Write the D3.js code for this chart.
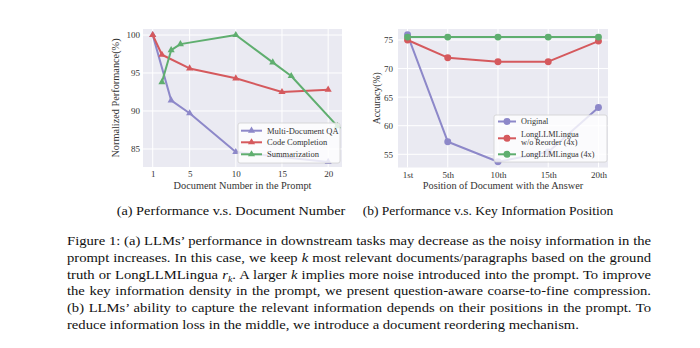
<!DOCTYPE html>
<html><head><meta charset="utf-8">
<script src="https://cdn.jsdelivr.net/npm/d3@7"></script>
<style>
html,body{margin:0;padding:0;background:#fff;}
svg{display:block;}
text{font-family:"Liberation Serif","DejaVu Serif",serif;}
</style></head>
<body>
<svg id="fig" width="700" height="348"></svg>
<script>
// ---------- Data: chart (a) ----------
const qaX = [1, 3, 5, 10, 20];
const qaY = [100, 91.4, 89.7, 84.6, 83.3];
const codeX = [1, 2, 5, 10, 15, 20];
const codeY = [100, 97.4, 95.6, 94.3, 92.5, 92.8];
const sumX = [2, 3, 4, 10, 14, 16, 21];
const sumY = [93.8, 98.0, 98.8, 100, 96.4, 94.6, 88.0];
const aXTicks = [1, 5, 10, 15, 20];
const aYTicks = [85, 90, 95, 100];
const aSeriesNames = ["Multi-Document QA", "Code Completion", "Summarization"];

// ---------- Data: chart (b) ----------
const posX = [1, 5, 10, 15, 20];
const posLabels = ["1st", "5th", "10th", "15th", "20th"];
const originalY = [75.9, 57.2, 53.7, 55.4, 63.2];
const noReorderY = [75.0, 71.9, 71.2, 71.2, 74.8];
const llmlinguaY = [75.5, 75.5, 75.5, 75.5, 75.5];
const bYTicks = [55, 60, 65, 70, 75];
const bSeriesNames = [["Original"], ["LongLLMLingua", "w/o Reorder (4x)"], ["LongLLMLingua (4x)"]];

// ---------- Caption text ----------
const subCaptions = ["(a) Performance v.s. Document Number", "(b) Performance v.s. Key Information Position"];
const captionLines = [
  [["Figure 1: (a) LLMs’ performance in downstream tasks may decrease as the noisy information in the", false]],
  [["prompt increases. In this case, we keep ", false], ["k", true], [" most relevant documents/paragraphs based on the ground", false]],
  [["truth or LongLLMLingua ", false], ["r", true], ["k", "sub"], [". A larger ", false], ["k", true], [" implies more noise introduced into the prompt. To improve", false]],
  [["the key information density in the prompt, we present question-aware coarse-to-fine compression.", false]],
  [["(b) LLMs’ ability to capture the relevant information depends on their positions in the prompt. To", false]],
  [["reduce information loss in the middle, we introduce a document reordering mechanism.", false]]
];

const colors = {purple: "#8d88c9", red: "#d5595d", green: "#5fae6f"};
const svg = d3.select("#fig");

function drawPanel(cfg) {
  const g = svg.append("g");
  const x = d3.scaleLinear().domain(cfg.xDomain).range([cfg.left, cfg.right]);
  const y = d3.scaleLinear().domain(cfg.yDomain).range([cfg.bottom, cfg.top]);
  g.append("rect").attr("x", cfg.left).attr("y", cfg.top)
    .attr("width", cfg.right - cfg.left).attr("height", cfg.bottom - cfg.top).attr("fill", "#eaeaf2");
  g.selectAll(".vg").data(cfg.xTicks).join("line")
    .attr("x1", d => x(d)).attr("x2", d => x(d)).attr("y1", cfg.top).attr("y2", cfg.bottom)
    .attr("stroke", "#fff").attr("stroke-width", 1);
  g.selectAll(".hg").data(cfg.yTicks).join("line")
    .attr("y1", d => y(d)).attr("y2", d => y(d)).attr("x1", cfg.left).attr("x2", cfg.right)
    .attr("stroke", "#fff").attr("stroke-width", 1);
  const xAxis = d3.axisBottom(x).tickValues(cfg.xTicks).tickSize(0).tickPadding(0)
    .tickFormat((d, i) => cfg.xTickLabels ? cfg.xTickLabels[i] : d);
  const xa = g.append("g").attr("transform", `translate(0,${cfg.bottom + 10})`).call(xAxis);
  xa.select(".domain").remove();
  xa.selectAll("text").attr("font-family", '"Liberation Serif",serif').attr("font-size", 9).attr("fill", "#333").attr("dy", "0");
  const yAxis = d3.axisLeft(y).tickValues(cfg.yTicks).tickSize(0).tickPadding(cfg.yPad);
  const ya = g.append("g").attr("transform", `translate(${cfg.left},0)`).call(yAxis);
  ya.select(".domain").remove();
  ya.selectAll("text").attr("font-family", '"Liberation Serif",serif').attr("font-size", 9).attr("fill", "#333");
  g.append("text").attr("x", (cfg.left + cfg.right) / 2).attr("y", cfg.bottom + 21.5)
    .attr("text-anchor", "middle").attr("font-size", 10.3).attr("fill", "#333").text(cfg.xTitle);
  g.append("text").attr("transform", `translate(${cfg.yTitleX},${(cfg.top + cfg.bottom) / 2}) rotate(-90)`)
    .attr("text-anchor", "middle").attr("font-size", cfg.yTitleSize).attr("fill", "#333").text(cfg.yTitle);
  const clip = "clip" + cfg.id;
  svg.append("clipPath").attr("id", clip).append("rect")
    .attr("x", cfg.left).attr("y", cfg.top).attr("width", cfg.right - cfg.left).attr("height", cfg.bottom - cfg.top);
  const line = d3.line().x(d => x(d[0])).y(d => y(d[1]));
  const sg = g.append("g").attr("clip-path", `url(#${clip})`);
  cfg.series.forEach(s => {
    const pts = s.xs.map((v, i) => [v, s.ys[i]]);
    sg.append("path").datum(pts).attr("d", line).attr("fill", "none")
      .attr("stroke", s.color).attr("stroke-width", 2).attr("stroke-linejoin", "round");
    sg.selectAll(null).data(pts).join("path")
      .attr("transform", d => `translate(${x(d[0])},${y(d[1])})`)
      .attr("d", d3.symbol().type(cfg.marker).size(cfg.markerSize))
      .attr("fill", s.color);
  });
  const L = cfg.legend;
  g.append("rect").attr("x", L.x).attr("y", L.y).attr("width", L.w).attr("height", L.h)
    .attr("rx", 2).attr("fill", "#fff").attr("fill-opacity", 0.8).attr("stroke", "#d0d0d0").attr("stroke-width", 0.8);
  cfg.series.forEach((s, i) => {
    const e = L.entries[i];
    g.append("line").attr("x1", L.hx1).attr("x2", L.hx2).attr("y1", e.hy).attr("y2", e.hy)
      .attr("stroke", s.color).attr("stroke-width", 2);
    g.append("path").attr("transform", `translate(${(L.hx1 + L.hx2) / 2},${e.hy})`)
      .attr("d", d3.symbol().type(cfg.marker).size(cfg.markerSize)).attr("fill", s.color);
    s.name.forEach((t, j) => {
      g.append("text").attr("x", L.tx).attr("y", e.ty[j]).attr("font-size", L.fs)
        .attr("fill", "#333").attr("dominant-baseline", "central").text(t);
    });
  });
}

drawPanel({
  id: "a", left: 143, right: 342, top: 29, bottom: 167,
  xDomain: [-0.05, 21.5], yDomain: [82.63, 100.79],
  xTicks: aXTicks, yTicks: aYTicks, yPad: 3,
  xTitle: "Document Number in the Prompt", yTitle: "Normalized Performance(%)",
  yTitleX: 119, yTitleSize: 10.3,
  marker: d3.symbolTriangle, markerSize: 22,
  series: [
    {xs: qaX, ys: qaY, color: colors.purple, name: [aSeriesNames[0]]},
    {xs: codeX, ys: codeY, color: colors.red, name: [aSeriesNames[1]]},
    {xs: sumX, ys: sumY, color: colors.green, name: [aSeriesNames[2]]}
  ],
  legend: {x: 238, y: 123, w: 102, h: 40, hx1: 241, hx2: 262, tx: 267, fs: 8.5,
    entries: [{hy: 130.7, ty: [130.7]}, {hy: 142.3, ty: [142.3]}, {hy: 154.3, ty: [154.3]}]}
});

drawPanel({
  id: "b", left: 398, right: 608, top: 29, bottom: 167.5,
  xDomain: [0.05, 20.95], yDomain: [52.69, 76.92],
  xTicks: posX, xTickLabels: posLabels, yTicks: bYTicks, yPad: 5,
  xTitle: "Position of Document with the Answer", yTitle: "Accuracy(%)",
  yTitleX: 380, yTitleSize: 9.8,
  marker: d3.symbolCircle, markerSize: 38,
  series: [
    {xs: posX, ys: originalY, color: colors.purple, name: bSeriesNames[0]},
    {xs: posX, ys: noReorderY, color: colors.red, name: bSeriesNames[1]},
    {xs: posX, ys: llmlinguaY, color: colors.green, name: bSeriesNames[2]}
  ],
  legend: {x: 494, y: 115, w: 113, h: 47, hx1: 498, hx2: 516, tx: 521, fs: 8.2,
    entries: [{hy: 121.5, ty: [121.5]}, {hy: 138.3, ty: [134, 142.5]}, {hy: 154.3, ty: [154.3]}]}
});

// sub captions
[[231, 1.06, subCaptions[0]], [488, 1.0, subCaptions[1]]].forEach(([cx, sx, s]) => {
  svg.append("text").attr("transform", `translate(${cx},215) scale(${sx},1)`).attr("text-anchor", "middle")
    .attr("font-size", 13.5).attr("fill", "#111").text(s);
});

// figure caption, justified
const capLeft = 67, capRight = 651, capTop = 245, capStep = 16.8, capSX = 1.1;
captionLines.forEach((segs, i) => {
  const t = svg.append("text")
    .attr("transform", `translate(${capLeft},${capTop + i * capStep}) scale(${capSX},1)`)
    .attr("font-size", 13.3).attr("fill", "#111");
  let prevSub = false;
  segs.forEach(([s, st]) => {
    const ts = t.append("tspan").text(s);
    if (st === true) ts.attr("font-style", "italic");
    if (st === "sub") ts.attr("font-style", "italic").attr("font-size", 9).attr("dy", 3);
    else if (prevSub) ts.attr("dy", -3);
    prevSub = st === "sub";
  });
  if (i < captionLines.length - 1) {
    const w = t.node().getComputedTextLength();
    const full = segs.map(s => s[0]).join("");
    const n = (full.match(/ /g) || []).length;
    t.attr("word-spacing", ((capRight - capLeft) / capSX - w) / n);
  }
});
</script>
</body></html>
